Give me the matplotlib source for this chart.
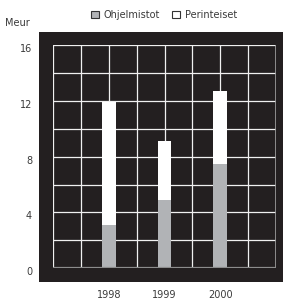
import numpy as np
import matplotlib
matplotlib.use('Agg')
import matplotlib.pyplot as plt
import matplotlib.transforms as mtransforms
from matplotlib.patches import Patch

# --- DATA ---
years = ['1998', '1999', '2000']
ohjelmistot = [3.1, 4.9, 7.5]      # software, Meur
perinteiset = [8.8, 4.25, 5.2]     # traditional, Meur (stacked on top)
y_ticks = [0, 4, 8, 12, 16]

# --- STYLE ---
BG_DARK = '#231f20'
GRAY_BAR = '#b1b3b6'
GRID = '#f0f0f0'
TEXT = '#3a3a3a'
plt.rcParams['font.family'] = 'DejaVu Sans'

W, H = 284, 301
fig = plt.figure(figsize=(W / 100, H / 100), dpi=100)

# dark panel behind the grid
bg = fig.add_axes([39 / W, 1 - 282 / H, (283 - 39) / W, (282 - 32) / H], zorder=-1)
bg.set_facecolor(BG_DARK)
bg.set_xticks([])
bg.set_yticks([])
for s in bg.spines.values():
    s.set_visible(False)

ax = fig.add_axes([53 / W, 1 - 268 / H, (276 - 53) / W, (268 - 45.4) / H])
ax.set_facecolor(BG_DARK)

x = 2 * (np.arange(len(years)) + 1)
ax.bar(x, ohjelmistot, width=0.5, color=GRAY_BAR, zorder=3)
ax.bar(x, perinteiset, width=0.5, bottom=ohjelmistot, color='white', zorder=3)

# grid
for gx in range(0, 9):
    ax.axvline(gx, color=GRID, linewidth=0.9, zorder=1)
for gy in range(0, 17, 2):
    ax.axhline(gy, color=GRID, linewidth=0.9, zorder=1)
ax.axhline(0, color='#8c8c8c', linewidth=1.6, zorder=4)
ax.axvline(8, color='#9a9a9a', linewidth=1.2, zorder=2)

ax.set_xlim(0, 8)
ax.set_ylim(0, 16)
for s in ax.spines.values():
    s.set_visible(False)

ax.set_yticks(y_ticks)
ax.set_yticklabels([str(v) for v in y_ticks])
ax.set_xticks(x)
ax.set_xticklabels(years)
ax.tick_params(axis='y', length=0, pad=15, labelsize=7, labelcolor=TEXT)
ax.tick_params(axis='x', length=0, pad=16, labelsize=7, labelcolor=TEXT)

# y labels sit slightly below their grid lines in the original
shift = mtransforms.ScaledTranslation(0, -3 / 100, fig.dpi_scale_trans)
for lbl in ax.get_yticklabels():
    lbl.set_transform(lbl.get_transform() + shift)

fig.text(5 / W, 1 - 23 / H, 'Meur', fontsize=7, color=TEXT, ha='left', va='center')

handles = [Patch(facecolor=GRAY_BAR, edgecolor='#333333', linewidth=0.8, label='Ohjelmistot'),
           Patch(facecolor='white', edgecolor='#333333', linewidth=0.8, label='Perinteiset')]
fig.legend(handles=handles, loc='center', bbox_to_anchor=(164 / W, 1 - 15 / H), ncol=2,
           frameon=False, fontsize=7, handlelength=0.8, handleheight=0.8,
           handletextpad=0.5, columnspacing=1.2, labelcolor=TEXT)

fig.savefig('out.png', dpi=100, facecolor='white')
